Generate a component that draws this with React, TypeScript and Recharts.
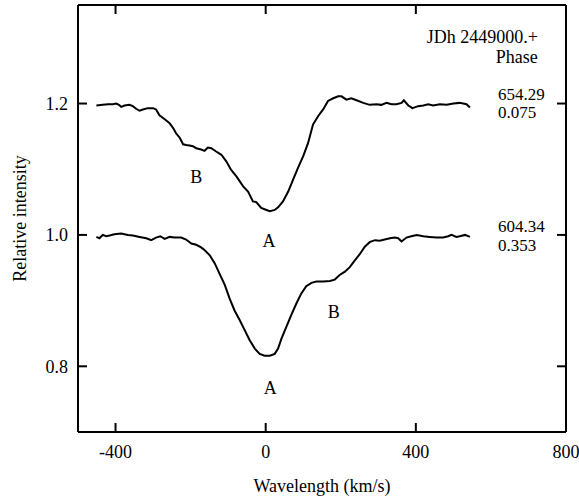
import React from 'react';
import { LineChart, Line, XAxis, YAxis } from 'recharts';

// upper spectrum: JDh 2449654.29, phase 0.075
const upperVel = [
  -451, -434, -420, -407, -398, -391, -385, -376, -363, -354, -345, -336, -327, -314, -300, -292,
  -283, -269, -256, -247, -238, -229, -220, -212, -203, -194, -185, -172, -163, -154, -145, -132,
  -118, -105, -92, -78, -60, -47, -34, -25, -12, 2, 11, 24, 33, 46, 60, 73, 86, 100, 113, 126,
  140, 153, 166, 180, 193, 202, 215, 228, 242, 260, 277, 295, 308, 322, 335, 348, 362, 368, 380,
  391, 406, 420, 433, 446, 464, 482, 500, 517, 526, 535, 544,
];
const upperInt = [
  1.197, 1.198, 1.199, 1.199, 1.2, 1.198, 1.195, 1.197, 1.198, 1.196, 1.192, 1.189, 1.191, 1.193,
  1.193, 1.191, 1.182, 1.176, 1.17, 1.163, 1.154, 1.148, 1.138, 1.137, 1.136, 1.135, 1.132, 1.13,
  1.128, 1.133, 1.132, 1.127, 1.122, 1.112, 1.099, 1.089, 1.074, 1.066, 1.051, 1.05, 1.041, 1.038,
  1.036, 1.038, 1.042, 1.051, 1.066, 1.084, 1.102, 1.12, 1.14, 1.168, 1.181, 1.191, 1.204, 1.208,
  1.211, 1.211, 1.206, 1.208, 1.205, 1.201, 1.198, 1.199, 1.198, 1.201, 1.199, 1.199, 1.201, 1.205,
  1.197, 1.193, 1.196, 1.197, 1.199, 1.197, 1.199, 1.198, 1.2, 1.201, 1.2, 1.199, 1.194,
];

// lower spectrum: JDh 2449604.34, phase 0.353
const lowerVel = [
  -451, -443, -434, -425, -416, -403, -385, -367, -354, -336, -318, -305, -292, -281, -269, -256,
  -243, -225, -212, -198, -185, -172, -163, -149, -136, -123, -109, -96, -83, -69, -56, -43, -29,
  -16, -3, 11, 24, 33, 42, 55, 68, 82, 95, 108, 122, 135, 153, 171, 184, 197, 211, 224, 237, 251,
  264, 277, 291, 304, 317, 331, 344, 353, 362, 375, 388, 402, 420, 437, 455, 473, 486, 495, 508,
  517, 531, 544,
];
const lowerInt = [
  0.997, 0.995, 1.0, 0.998, 0.999, 1.001, 1.002, 1.0, 0.999, 0.997, 0.995, 0.992, 0.996, 0.998,
  0.994, 0.997, 0.996, 0.996, 0.993, 0.987, 0.985, 0.981, 0.977, 0.969, 0.957, 0.941, 0.924, 0.903,
  0.885, 0.87, 0.855, 0.84, 0.827, 0.819, 0.816, 0.816, 0.819, 0.827, 0.842, 0.86, 0.878, 0.896,
  0.911, 0.922, 0.927, 0.929, 0.929, 0.93, 0.932, 0.939, 0.944, 0.951, 0.961, 0.971, 0.982, 0.989,
  0.992, 0.991, 0.993, 0.995, 0.996, 0.995, 0.99, 0.996, 0.998, 1.0, 0.998, 0.997, 0.996, 0.996,
  0.998, 1.0, 0.997, 0.998, 1.0, 0.997,
];

const xDomain = [-500, 800];
const yDomain = [0.7, 1.35];
const xTicks = [-400, 0, 400, 800];
const xTopTicks = [-400, 0, 400];
const yTicks = [0.8, 1.0, 1.2];

// profile labels (A = primary, B = secondary component)
const markText = ['B', 'A', 'B', 'A'];
const markVel = [-185, 9, 181, 12];
const markInt = [1.089, 0.991, 0.884, 0.768];

// epoch / phase notes beside each profile
const noteText = ['654.29', '0.075', '604.34', '0.353'];
const noteInt = [1.215, 1.187, 1.013, 0.985];
const headerText = ['JDh 2449000.+', 'Phase'];
const headerInt = [1.302, 1.272];

const upper = upperVel.map((v, k) => ({ v, i: upperInt[k] }));
const lower = lowerVel.map((v, k) => ({ v, i: lowerInt[k] }));

const FONT = '"Liberation Serif", "Times New Roman", serif';

// plot box on the page (left axis 78px wide, right edge 566, top 5, bottom 432)
const PL = 78, PR = 566, PT = 5, PB = 432;
const px = (v: number) => PL + ((v - xDomain[0]) / (xDomain[1] - xDomain[0])) * (PR - PL);
const py = (i: number) => PT + ((yDomain[1] - i) / (yDomain[1] - yDomain[0])) * (PB - PT);

const css = `
.spec text.recharts-cartesian-axis-tick-value { font-family: ${FONT}; font-size: 18px; fill: #000; }
.spec text.recharts-cartesian-axis-tick-value[text-anchor="middle"] { transform: translateY(20px); }
.spec text.recharts-cartesian-axis-tick-value[text-anchor="end"] { transform: translateX(-17px); }
`;

export default function App() {
  return (
    <div className="spec" style={{ position: 'absolute', left: 0, top: 0, width: 579, height: 503, overflow: 'hidden' }}>
      <style>{css}</style>
      <div style={{ position: 'absolute', left: 0, top: -15 }}>
        <LineChart width={596} height={518} margin={{ top: 0, right: 0, bottom: 0, left: 0 }}>
          <XAxis dataKey="v" type="number" domain={xDomain} ticks={xTicks} height={71}
            tickLine={{ stroke: '#000', strokeWidth: 2 }} tickSize={-9} axisLine={{ stroke: '#000', strokeWidth: 2 }} />
          <XAxis xAxisId="top" orientation="top" dataKey="v" type="number" domain={xDomain} ticks={xTopTicks} height={20}
            tickLine={{ stroke: '#000', strokeWidth: 2 }} tickSize={-9} tickFormatter={() => ''}
            axisLine={{ stroke: '#000', strokeWidth: 2 }} />
          <YAxis type="number" domain={yDomain} ticks={yTicks} width={78}
            tickLine={{ stroke: '#000', strokeWidth: 2 }} tickSize={-9} tickFormatter={(t: number) => t.toFixed(1)}
            axisLine={{ stroke: '#000', strokeWidth: 2 }} />
          <YAxis yAxisId="right" orientation="right" type="number" domain={yDomain} ticks={yTicks} width={30}
            tickLine={{ stroke: '#000', strokeWidth: 2 }} tickSize={-9} tickFormatter={() => ''}
            axisLine={{ stroke: '#000', strokeWidth: 2 }} />
          <Line data={upper} dataKey="i" xAxisId="top" yAxisId="right" stroke="none" dot={false} isAnimationActive={false} />
          <Line data={upper} dataKey="i" type="linear" stroke="#000" strokeWidth={2} dot={false} isAnimationActive={false} />
          <Line data={lower} dataKey="i" type="linear" stroke="#000" strokeWidth={2} dot={false} isAnimationActive={false} />
        </LineChart>
      </div>
      <svg width={579} height={503} style={{ position: 'absolute', left: 0, top: 0, pointerEvents: 'none' }}
        fontFamily={FONT} fontSize={18} fill="#000">
        {markText.map((t, k) => (
          <text key={'m' + k} x={px(markVel[k])} y={py(markInt[k])} dy="0.355em" textAnchor="middle">{t}</text>
        ))}
        {noteText.map((t, k) => (
          <text key={'n' + k} x={px(619)} y={py(noteInt[k])} dy="0.355em" textAnchor="start" fontSize={17}>{t}</text>
        ))}
        {headerText.map((t, k) => (
          <text key={'h' + k} x={px(725)} y={py(headerInt[k])} dy="0.355em" textAnchor="end">{t}</text>
        ))}
        <text x={(PL + PR) / 2} y={492} textAnchor="middle">Wavelength (km/s)</text>
        <text x={20} y={(PT + PB) / 2} dy="0.355em" textAnchor="middle" transform={`rotate(-90 20 ${(PT + PB) / 2})`}>
          Relative intensity
        </text>
      </svg>
    </div>
  );
}
